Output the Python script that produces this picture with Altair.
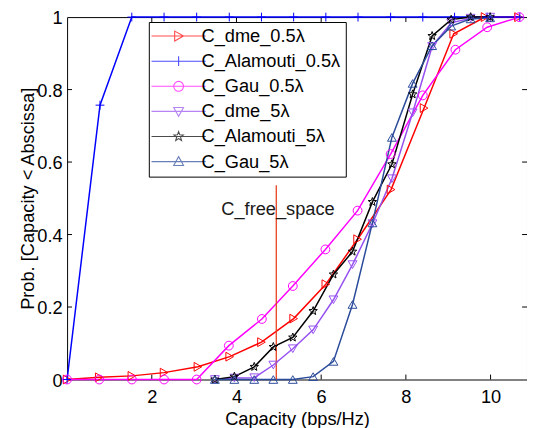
import math
import altair as alt
import pandas as pd

# ---------------- data ----------------
names = ["C_dme_0.5λ", "C_Alamouti_0.5λ", "C_Gau_0.5λ",
         "C_dme_5λ", "C_Alamouti_5λ", "C_Gau_5λ"]

x_dme_05 = [0.0, 0.76, 1.53, 2.29, 3.09, 3.84, 4.59, 5.35, 6.11, 6.86, 7.65, 8.43, 9.13, 9.87, 10.66]
y_dme_05 = [0.0, 0.006, 0.010, 0.019, 0.035, 0.063, 0.103, 0.168, 0.263, 0.387, 0.524, 0.749, 0.954, 1.0, 1.0]

x_ala_05 = [0.0, 0.777, 1.528, 2.29, 3.06, 3.83, 4.59, 5.35, 6.11, 6.87, 7.64, 8.40, 9.15, 9.92, 10.69]
y_ala_05 = [0.0, 0.757, 1.0, 1.0, 1.0, 1.0, 1.0, 1.0, 1.0, 1.0, 1.0, 1.0, 1.0, 1.0, 1.0]

x_gau_05 = [0.0, 0.76, 1.53, 2.29, 3.06, 3.82, 4.60, 5.33, 6.10, 6.86, 7.64, 8.40, 9.17, 9.92, 10.68]
y_gau_05 = [0.0, 0.0, 0.0, 0.0, 0.0, 0.0935, 0.167, 0.258, 0.359, 0.466, 0.622, 0.784, 0.910, 0.972, 1.0]

x_5 = [3.49, 3.95, 4.42, 4.87, 5.33, 5.81, 6.29, 6.74, 7.21, 7.67, 8.16, 8.62, 9.07, 9.53, 9.99]
y_dme_5 = [0.0, 0.004, 0.005, 0.040, 0.085, 0.137, 0.220, 0.317, 0.430, 0.554, 0.736, 0.919, 0.984, 0.997, 1.0]
y_ala_5 = [0.0, 0.008, 0.035, 0.090, 0.116, 0.189, 0.290, 0.353, 0.490, 0.594, 0.787, 0.948, 0.993, 1.0, 1.0]
y_gau_5 = [0.0, 0.0, 0.0, 0.0, 0.0, 0.008, 0.050, 0.207, 0.432, 0.668, 0.817, 0.921, 0.975, 0.995, 0.998]

free_space_x = [4.94]
free_space_top = [0.536]
free_space_label = ["C_free_space"]
free_space_label_x = [4.98]
free_space_label_y = [0.454]

x_ticks = [2, 4, 6, 8, 10]
y_ticks = [0, 0.2, 0.4, 0.6, 0.8, 1]
y_inner_ticks = [0.2, 0.4, 0.6, 0.8]

series_x = [x_dme_05, x_ala_05, x_gau_05, x_5, x_5, x_5]
series_y = [y_dme_05, y_ala_05, y_gau_05, y_dme_5, y_ala_5, y_gau_5]

rows = []
for n, xs, ys in zip(names, series_x, series_y):
    for xv, yv in zip(xs, ys):
        rows.append({"series": n, "x": xv, "y": yv})
df = pd.DataFrame(rows)

# ---------------- styles ----------------
FONT = "Liberation Sans"
FS = 18.5
colors = ["#ff0000", "#0000ff", "#ff00ff", "#9650f0", "#000000", "#2a4a9a"]
widths = [1.5, 1.5, 1.5, 1.0, 1.0, 1.0]


def star_path(ro=1.0, ri=0.42):
    pts = []
    for k in range(10):
        r = ro if k % 2 == 0 else ri
        a = -math.pi / 2 + k * math.pi / 5
        pts.append((r * math.cos(a), r * math.sin(a)))
    return "M" + "L".join(f"{px:.3f},{py:.3f}" for px, py in pts) + "Z"


plus = "M-1,0L1,0M0,-1L0,1"
star = star_path()
marker_shapes = ["triangle-right", plus, "circle", "triangle-down", star, "triangle-up"]

unit_markers = [
    "M-0.8,-1L1,0L-0.8,1Z",
    plus,
    "M1,0A1,1,0,1,1,-1,0A1,1,0,1,1,1,0",
    "M-1,-0.8L1,-0.8L0,1Z",
    star,
    "M-1,0.8L1,0.8L0,-1Z",
]
legend_shapes = ["M-5.5,0L5.5,0" + m for m in unit_markers]

W, H = 467, 368
XMAX = W / 43.0
xscale = alt.Scale(domain=[0, XMAX], nice=False, zero=False)
yscale = alt.Scale(domain=[0, 1], nice=False, zero=False)

color_enc = alt.Color("series:N", scale=alt.Scale(domain=names, range=colors), legend=None)

base = alt.Chart(df)

lines = base.mark_line().encode(
    x=alt.X("x:Q", scale=xscale,
            axis=alt.Axis(values=x_ticks, format="d", title="Capacity (bps/Hz)",
                          labelPadding=8, titlePadding=4)),
    y=alt.Y("y:Q", scale=yscale,
            axis=alt.Axis(values=y_ticks, title="Prob. [Capacity < Abscissa]",
                          labelExpr="datum.value == 0 ? '0' : datum.value == 1 ? '1' : format(datum.value, '.1f')",
                          labelPadding=5, labelOffset=1, titlePadding=-1)),
    color=color_enc,
    strokeWidth=alt.StrokeWidth("series:N", scale=alt.Scale(domain=names, range=widths), legend=None),
    detail="series:N",
)

points = base.mark_point(filled=False, size=80, strokeWidth=1.0, opacity=1).encode(
    x=alt.X("x:Q", scale=xscale),
    y=alt.Y("y:Q", scale=yscale),
    color=color_enc,
    shape=alt.Shape("series:N", scale=alt.Scale(domain=names, range=marker_shapes), legend=None),
)

fs_df = pd.DataFrame({"x": free_space_x, "y0": [0.0], "y1": free_space_top})
rule = alt.Chart(fs_df).mark_rule(color="#e8401c", strokeWidth=1.3).encode(
    x=alt.X("x:Q", scale=xscale),
    y=alt.Y("y0:Q", scale=yscale),
    y2="y1:Q",
)

lab_df = pd.DataFrame({"x": free_space_label_x, "y": free_space_label_y, "t": free_space_label})
label = alt.Chart(lab_df).mark_text(font=FONT, fontSize=FS, align="center",
                                    baseline="alphabetic", color="#1a1a1a").encode(
    x=alt.X("x:Q", scale=xscale),
    y=alt.Y("y:Q", scale=yscale),
    text="t:N",
)

xt_df = pd.DataFrame({"t": x_ticks})
yt_df = pd.DataFrame({"t": y_inner_ticks})
TL = 5
tick_bottom = alt.Chart(xt_df).mark_rule(color="black", strokeWidth=1).encode(
    x=alt.X("t:Q", scale=xscale), y=alt.value(H), y2=alt.value(H - TL))
tick_top = alt.Chart(xt_df).mark_rule(color="black", strokeWidth=1).encode(
    x=alt.X("t:Q", scale=xscale), y=alt.value(0), y2=alt.value(TL))
tick_left = alt.Chart(yt_df).mark_rule(color="black", strokeWidth=1).encode(
    y=alt.Y("t:Q", scale=yscale), x=alt.value(0), x2=alt.value(TL))
tick_right = alt.Chart(yt_df).mark_rule(color="black", strokeWidth=1).encode(
    y=alt.Y("t:Q", scale=yscale), x=alt.value(W), x2=alt.value(W - TL))

leg_common = dict(title=None, orient="none", legendX=83, legendY=5,
                  strokeColor="black", fillColor="white", padding=5,
                  rowPadding=6.5, labelFont=FONT, labelFontSize=FS, labelColor="black",
                  symbolOffset=16, labelOffset=14, symbolStrokeWidth=1.1)

legend_layer = base.transform_filter("datum.y < -1").mark_point(
    filled=False, size=64, strokeWidth=1.1).encode(
    x=alt.X("x:Q", scale=xscale),
    y=alt.Y("y:Q", scale=yscale),
    color=alt.Color("series:N", scale=alt.Scale(domain=names, range=colors),
                    legend=alt.Legend(**leg_common)),
    shape=alt.Shape("series:N", scale=alt.Scale(domain=names, range=legend_shapes),
                    legend=alt.Legend(**leg_common)),
)

chart = alt.layer(
    tick_bottom, tick_top, tick_left, tick_right,
    lines, rule, points, label, legend_layer,
).resolve_scale(color="independent", shape="independent", strokeWidth="independent").properties(
    width=W, height=H,
    padding={"left": 60, "top": 6, "right": 0, "bottom": 46},
    autosize=alt.AutoSizeParams(type="none"),
).configure_view(stroke="black", strokeWidth=1).configure_axis(
    labelFont=FONT, titleFont=FONT, labelFontSize=FS, titleFontSize=FS,
    titleFontWeight="normal", labelColor="black", titleColor="black",
    grid=False, domain=False, ticks=False, tickSize=0,
)

chart.save("out.html", embed_options={"renderer": "svg", "actions": False})
